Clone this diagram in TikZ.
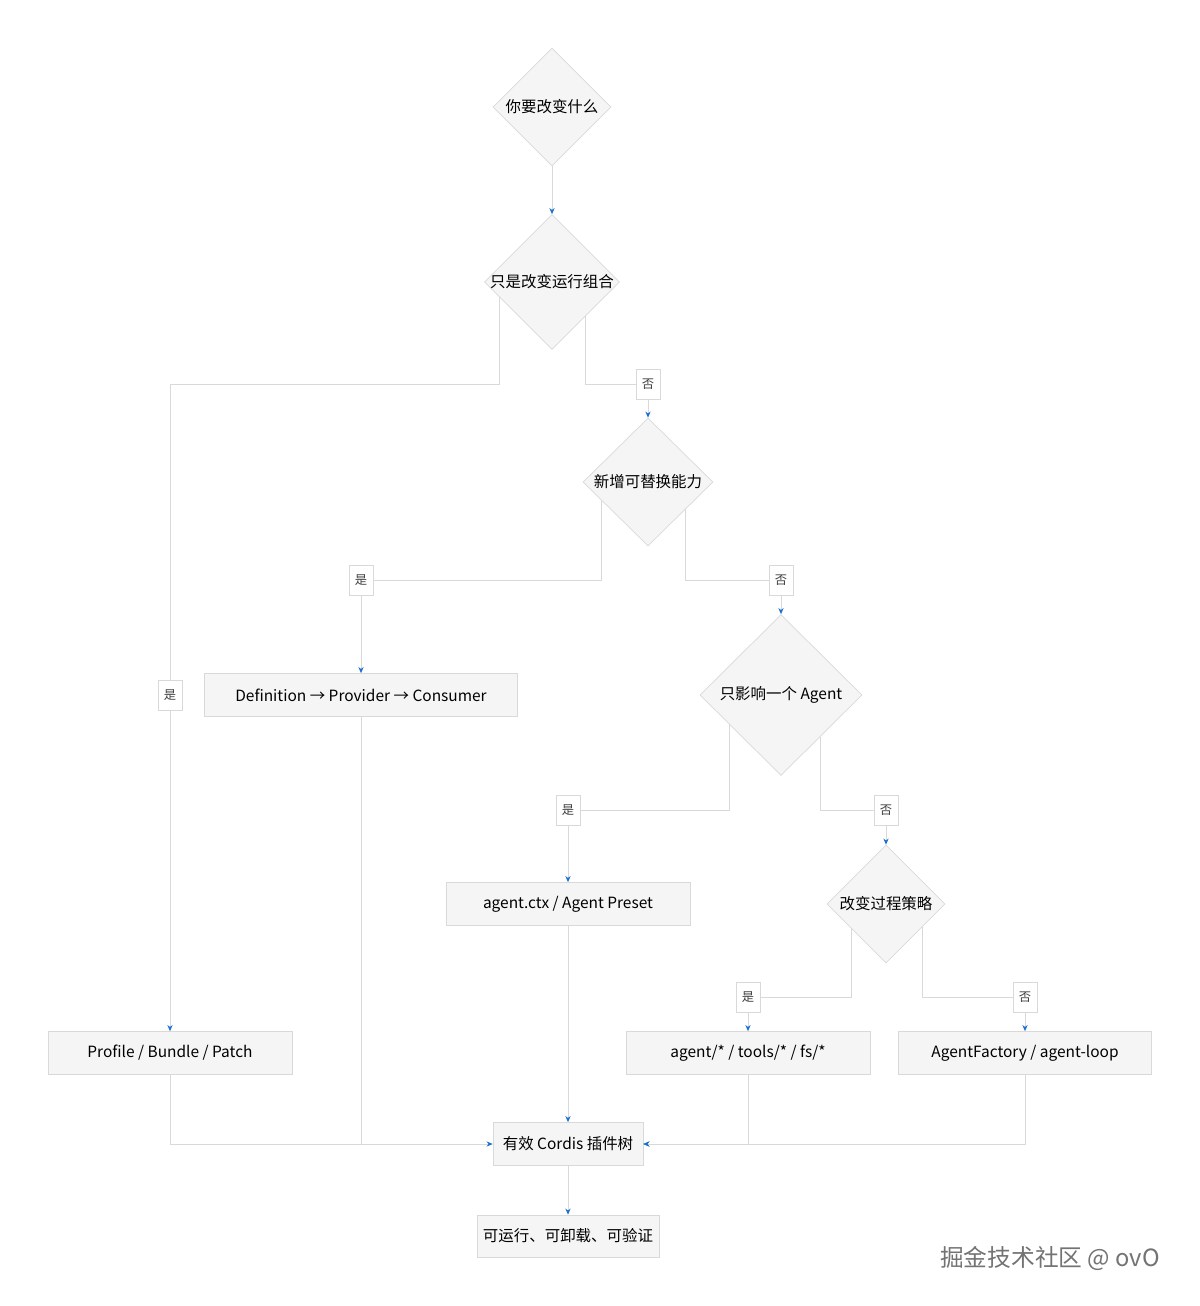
\documentclass[tikz,border=0pt]{standalone}
\usepackage{fontspec}
\setmainfont{Noto Sans CJK SC}
\usetikzlibrary{shapes.geometric, arrows.meta, calc}
\definecolor{edgegray}{HTML}{D9D9D9}
\definecolor{nodefill}{HTML}{F5F5F5}
\definecolor{tipblue}{HTML}{1F6FD1}
\tikzset{
  decision/.style={diamond, draw=edgegray, fill=nodefill, inner sep=0pt},
  dlabel/.style={label={[font=\fontsize{8.8}{10}\selectfont]center:#1}},
  process/.style={rectangle, draw=edgegray, fill=nodefill, minimum height=0.86cm,
    font=\fontsize{8.8}{10}\selectfont},
  answer/.style={rectangle, draw=edgegray, fill=white, minimum width=0.48cm,
    minimum height=0.6cm, inner sep=1pt, font=\fontsize{7}{8}\selectfont, text=black!75},
  arrow/.style={draw=edgegray, line width=0.5pt, -{Stealth[length=3.5pt,width=3pt,color=tipblue]}},
  line/.style={draw=edgegray, line width=0.5pt}
}
\begin{document}
\begin{tikzpicture}[x=0.02cm, y=-0.02cm]
  \useasboundingbox (0,0) rectangle (1200,1306);

  % Decisions
  \node (what) [decision, minimum width=2.36cm, minimum height=2.36cm, dlabel={你要改变什么}] at (552,107) {};
  \node (combo) [decision, minimum width=2.7cm, minimum height=2.7cm, dlabel={只是改变运行组合}] at (552,282) {};
  \node (ability) [decision, minimum width=2.6cm, minimum height=2.56cm, dlabel={新增可替换能力}] at (648,482) {};
  \node (oneagent) [decision, minimum width=3.24cm, minimum height=3.22cm, dlabel={只影响一个 Agent}] at (781,695) {};
  \node (policy) [decision, minimum width=2.36cm, minimum height=2.36cm, dlabel={改变过程策略}] at (886,904) {};

  % Results
  \node (chain) [process, minimum width=6.26cm] at (361,695) {Definition → Provider → Consumer};
  \node (preset) [process, minimum width=4.88cm] at (568,904) {agent.ctx / Agent Preset};
  \node (profile) [process, minimum width=4.88cm] at (170,1053) {Profile / Bundle / Patch};
  \node (tools) [process, minimum width=4.88cm] at (748,1053) {agent/* / tools/* / fs/*};
  \node (factory) [process, minimum width=5.06cm] at (1025,1053) {AgentFactory / agent-loop};
  \node (tree) [process, minimum width=3cm] at (568,1144) {有效 Cordis 插件树};
  \node (done) [process, minimum width=2.66cm, minimum height=0.84cm] at (568,1236) {可运行、可卸载、可验证};

  % Branches
  \draw [arrow] (what) -- (combo);
  \draw [arrow] ($(combo.west)!0.22!(combo.south)$) |- (170,384) -- (profile);
  \draw [arrow] (combo.south east) |- (648,384) -- (ability);
  \draw [arrow] ($(ability.west)!0.29!(ability.south)$) |- (361,580) -- (chain);
  \draw [arrow] ($(ability.south)!0.58!(ability.east)$) |- (781,580) -- (oneagent);
  \draw [arrow] ($(oneagent.west)!0.36!(oneagent.south)$) |- (568,810) -- (preset);
  \draw [arrow] ($(oneagent.south)!0.48!(oneagent.east)$) |- (886,810) -- (policy);
  \draw [arrow] ($(policy.west)!0.41!(policy.south)$) |- (748,997) -- (tools);
  \draw [arrow] ($(policy.south)!0.61!(policy.east)$) |- (1025,997) -- (factory);

  % Merge into tree
  \draw [arrow] (profile) |- (tree);
  \draw [line] (chain) -- (chain |- tree);
  \draw [arrow] (preset) -- (tree);
  \draw [arrow] (tools) |- (tree);
  \draw [arrow] (factory) |- (tree);
  \draw [arrow] (tree) -- (done);

  % Answers
  \node (a1) [answer] at (170,695) {是};
  \node (a2) [answer] at (648,384) {否};
  \node (a3) [answer] at (361,580) {是};
  \node (a4) [answer] at (781,580) {否};
  \node (a5) [answer] at (568,810) {是};
  \node (a6) [answer] at (886,810) {否};
  \node (a7) [answer] at (748,997) {是};
  \node (a8) [answer] at (1025,997) {否};

  \node (mark) [text=black!55, font=\fontsize{13.5}{15}\selectfont] at (1050,1258) {掘金技术社区 @ ovO};
\end{tikzpicture}
\end{document}
